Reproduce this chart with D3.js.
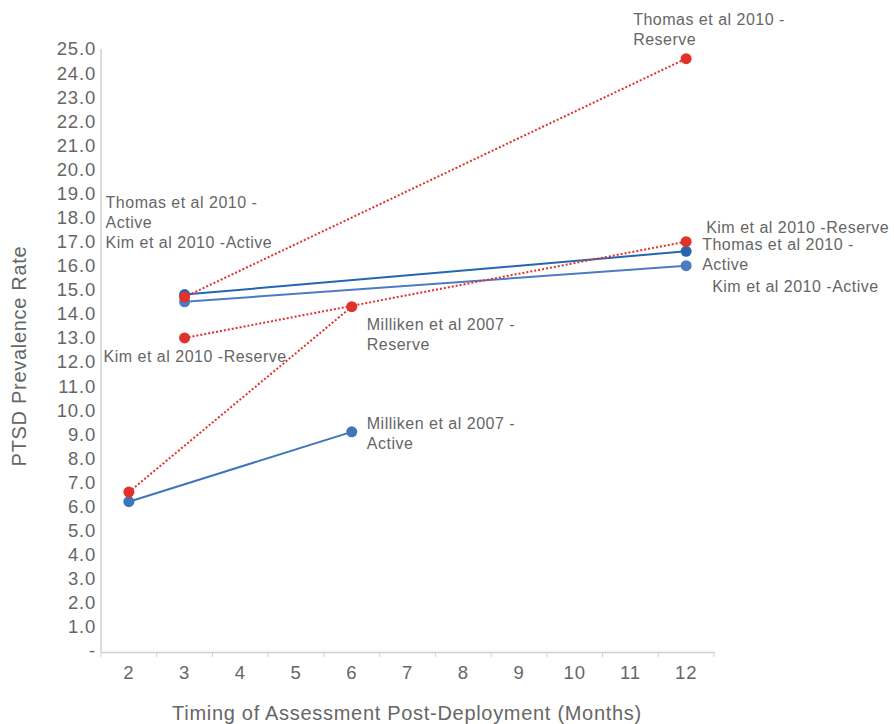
<!DOCTYPE html>
<html><head><meta charset="utf-8">
<script src="https://cdn.jsdelivr.net/npm/d3@7"></script>
<style>body{margin:0;background:#fff}svg{display:block}</style>
</head><body><svg id="c" width="894" height="724"></svg>
<script>
const months = ["2","3","4","5","6","7","8","9","10","11","12"];
const yTicks = d3.range(0, 26, 1);
const xTitle = "Timing of Assessment Post-Deployment (Months)";
const yTitle = "PTSD Prevalence Rate";

const seriesNames = ["Milliken et al 2007 - Active","Milliken et al 2007 - Reserve","Kim et al 2010 -Active","Thomas et al 2010 - Active","Kim et al 2010 -Reserve","Thomas et al 2010 - Reserve"];
const seriesType = ["active","reserve","active","active","reserve","reserve"];
const milkActive = [["2",6.2],["6",9.1]];
const milkReserve = [["2",6.6],["6",14.3]];
const kimActive = [["3",14.5],["12",16.0]];
const thomasActive = [["3",14.8],["12",16.6]];
const kimReserve = [["3",13.0],["12",17.0]];
const thomasReserve = [["3",14.7],["12",24.6]];
const seriesValues = [milkActive, milkReserve, kimActive, thomasActive, kimReserve, thomasReserve];

// label text for each point (first point, second point)
const pointLabels = [
  [null, ["Milliken et al 2007 -","Active"]],
  [null, ["Milliken et al 2007 -","Reserve"]],
  [["Kim et al 2010 -Active"], ["Kim et al 2010 -Active"]],
  [["Thomas et al 2010 -","Active"], ["Thomas et al 2010 -","Active"]],
  [["Kim et al 2010 -Reserve"], ["Kim et al 2010 -Reserve"]],
  [null, ["Thomas et al 2010 -","Reserve"]]
];
// label offsets (layout) relative to point [dx, dy of first baseline]
const labelOffsets = [
  [null,[15,-3]],
  [null,[15,23]],
  [[-79,-54],[26,26]],
  [[-79,-87],[16,-1]],
  [[-81,24],[20,-9]],
  [null,[-53,-34]]
];
const colors = ["#3f76ba","#e0322a","#4b7cc0","#2466b0","#e0322a","#e0322a"];

const svg = d3.select("#c");
const x = d3.scaleBand().domain(months).range([101, 714]);
const y = d3.scaleLinear().domain([0, 25]).range([651, 49]);
const font = "'Liberation Sans', Arial, sans-serif";

// axes
const yAxis = svg.append("g").attr("transform","translate(101,0)")
  .call(d3.axisLeft(y).tickValues(yTicks).tickSize(0).tickPadding(5)
    .tickFormat(d => d === 0 ? "-" : d3.format(".1f")(d)));
yAxis.select(".domain").attr("stroke","#d0d0d0").attr("stroke-width",1.5).attr("d","M0,49V652");
yAxis.selectAll("text").attr("fill","#666").attr("font-size",18.5).attr("letter-spacing","0.8px").attr("font-family",font);

const xAxis = svg.append("g").attr("transform","translate(0,652)")
  .call(d3.axisBottom(x).tickSize(0).tickPadding(14));
xAxis.select(".domain").attr("stroke","#d0d0d0").attr("stroke-width",1.5);
xAxis.selectAll("text").attr("fill","#666").attr("font-size",18.5).attr("letter-spacing","0.8px").attr("font-family",font);
// tick marks between categories
const bounds = months.map(m => x(m)).concat([x.range()[1]]);
svg.append("g").selectAll("line").data(bounds).join("line")
  .attr("x1", d=>d).attr("x2", d=>d).attr("y1",652).attr("y2",657)
  .attr("stroke","#d0d0d0").attr("stroke-width",1);

svg.append("text").attr("x",407).attr("y",720).attr("text-anchor","middle")
  .attr("fill","#666").attr("font-size",20).attr("letter-spacing","0.7px").attr("font-family",font).text(xTitle);
svg.append("text").attr("transform","translate(26,356) rotate(-90)").attr("text-anchor","middle")
  .attr("fill","#666").attr("font-size",20).attr("letter-spacing","0.7px").attr("font-family",font).text(yTitle);

const cx = d => x(d[0]) + x.bandwidth()/2;
const line = d3.line().x(cx).y(d => y(d[1]));

seriesValues.forEach((vals, i) => {
  const g = svg.append("g");
  const reserve = seriesType[i] === "reserve";
  g.append("path").attr("d", line(vals)).attr("fill","none")
    .attr("stroke", colors[i]).attr("stroke-width", 2)
    .attr("stroke-dasharray", reserve ? "2,2" : null);
  g.selectAll("circle").data(vals).join("circle")
    .attr("cx", cx).attr("cy", d => y(d[1])).attr("r", 5.5).attr("fill", colors[i]);
});

seriesValues.forEach((vals, i) => {
  vals.forEach((v, j) => {
    const lab = pointLabels[i][j];
    if (!lab) return;
    const off = labelOffsets[i][j];
    const t = svg.append("text").attr("fill","#666").attr("font-size",16).attr("letter-spacing","0.5px").attr("font-family",font);
    lab.forEach((s, k) => {
      t.append("tspan").attr("x", cx(v) + off[0]).attr("y", y(v[1]) + off[1] + k*20).text(s);
    });
  });
});
</script></body></html>
